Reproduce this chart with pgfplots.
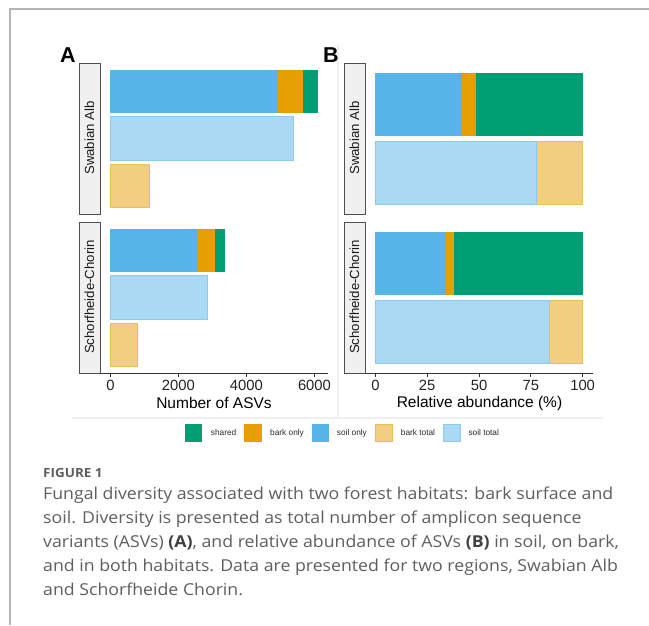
\documentclass[border=0pt]{standalone}
\usepackage{pgfplots}
\pgfplotsset{compat=1.18}
\usepackage{fontspec}
\setmainfont{Liberation Sans}
\newfontfamily\capfont{Open Sans}

\definecolor{shared}{HTML}{009E73}
\definecolor{barkonly}{HTML}{E69F00}
\definecolor{soilonly}{HTML}{56B4E9}
\definecolor{barktotal}{HTML}{F2CF80}
\definecolor{soiltotal}{HTML}{AAD9F4}
\definecolor{barktotalb}{HTML}{EDBE55}
\definecolor{soiltotalb}{HTML}{8CCBF0}
\definecolor{stripfill}{HTML}{F0F0F0}
\definecolor{stripdraw}{HTML}{505050}
\definecolor{axcol}{HTML}{333333}
\definecolor{tickcol}{HTML}{222222}
\definecolor{framecol}{HTML}{B4B4B4}
\definecolor{faint}{HTML}{F0F0F0}
\definecolor{captext}{HTML}{5E5E5E}

\pgfplotsset{
  base/.style={scale only axis, width=228pt, height=151pt, axis y line=none,
    ytick=\empty, clip=false, bar width=0.92,
    /pgf/number format/assume math mode=true},
  showx/.style={axis x line=bottom,
    x axis line style={-, draw=axcol, line width=0.8pt},
    xtick align=outside, major tick length=3.5pt,
    xtick style={draw=axcol, line width=0.8pt},
    xticklabel style={font=\fontsize{14.8}{16}\selectfont, text=tickcol},
    /pgf/number format/1000 sep={}},
  Aax/.style={xmin=-305, xmax=6398, ymin=0.4, ymax=3.6},
  Bax/.style={xmin=-5, xmax=105, ymin=0.4, ymax=2.6},
}

\newcommand{\capline}[1]{\scalebox{1.08}[1]{#1}}

\begin{document}
\begin{tikzpicture}
\path[use as bounding box] (0pt,0pt) rectangle (649pt,-625pt);
% page frame
\draw[framecol, line width=1.1pt] (10pt,-625pt) -- (10pt,-9pt) -- (649pt,-9pt);
% faint panel separators
\draw[faint, line width=1.5pt] (72pt,-418pt) -- (603pt,-418pt);
\draw[faint, line width=1.2pt] (338pt,-45pt) -- (338pt,-418pt);

% ===== Panel A, Swabian Alb =====
\begin{axis}[base, Aax, hide axis, xbar stacked, at={(100pt,-214pt)}, anchor=south west]
\addplot[fill=soilonly, draw=none] coordinates {(4935,3)};
\addplot[fill=barkonly, draw=none] coordinates {(720,3)};
\addplot[fill=shared, draw=none] coordinates {(438,3)};
\end{axis}
\begin{axis}[base, Aax, hide axis, xbar, at={(100pt,-214pt)}, anchor=south west]
\addplot[xbar, bar shift=0pt, fill=soiltotal, draw=soiltotalb, line width=0.8pt] coordinates {(5373,2)};
\addplot[xbar, bar shift=0pt, fill=barktotal, draw=barktotalb, line width=0.8pt] coordinates {(1158,1)};
\end{axis}

% ===== Panel A, Schorfheide-Chorin =====
\begin{axis}[base, Aax, hide axis, xbar stacked, at={(100pt,-373pt)}, anchor=south west]
\addplot[fill=soilonly, draw=none] coordinates {(2575,3)};
\addplot[fill=barkonly, draw=none] coordinates {(505,3)};
\addplot[fill=shared, draw=none] coordinates {(292,3)};
\end{axis}
\begin{axis}[base, Aax, showx, xtick={0,2000,4000,6000}, xbar, at={(100pt,-373pt)}, anchor=south west]
\addplot[xbar, bar shift=0pt, fill=soiltotal, draw=soiltotalb, line width=0.8pt] coordinates {(2867,2)};
\addplot[xbar, bar shift=0pt, fill=barktotal, draw=barktotalb, line width=0.8pt] coordinates {(797,1)};
\end{axis}

% ===== Panel B, Swabian Alb =====
\begin{axis}[base, Bax, hide axis, xbar stacked, at={(365pt,-214pt)}, anchor=south west]
\addplot[fill=soilonly, draw=none] coordinates {(42.0,2)};
\addplot[fill=barkonly, draw=none] coordinates {(6.7,2)};
\addplot[fill=shared, draw=none] coordinates {(51.3,2)};
\end{axis}
\begin{axis}[base, Bax, hide axis, xbar stacked, at={(365pt,-214pt)}, anchor=south west]
\addplot[fill=soiltotal, draw=soiltotalb, line width=0.8pt] coordinates {(77.7,1)};
\addplot[fill=barktotal, draw=barktotalb, line width=0.8pt] coordinates {(22.3,1)};
\end{axis}

% ===== Panel B, Schorfheide-Chorin =====
\begin{axis}[base, Bax, hide axis, xbar stacked, at={(365pt,-373pt)}, anchor=south west]
\addplot[fill=soilonly, draw=none] coordinates {(34.0,2)};
\addplot[fill=barkonly, draw=none] coordinates {(4.0,2)};
\addplot[fill=shared, draw=none] coordinates {(62.0,2)};
\end{axis}
\begin{axis}[base, Bax, showx, xtick={0,25,50,75,100}, xbar stacked, at={(365pt,-373pt)}, anchor=south west]
\addplot[fill=soiltotal, draw=soiltotalb, line width=0.8pt] coordinates {(84.0,1)};
\addplot[fill=barktotal, draw=barktotalb, line width=0.8pt] coordinates {(16.0,1)};
\end{axis}

% strips
\foreach \xa/\xb in {79/100, 344/365}{
  \draw[fill=stripfill, draw=stripdraw, line width=0.9pt] (\xa pt,-63pt) rectangle (\xb pt,-214pt);
  \draw[fill=stripfill, draw=stripdraw, line width=0.9pt] (\xa pt,-222pt) rectangle (\xb pt,-373pt);
}
\foreach \xc in {89.5, 354.5}{
  \node[rotate=90, text={rgb,255:red,26;green,26;blue,26}, font=\fontsize{13.2}{15}\selectfont, inner sep=0pt] at (\xc pt,-138pt) {Swabian Alb};
  \node[rotate=90, text={rgb,255:red,26;green,26;blue,26}, font=\fontsize{13.2}{15}\selectfont, inner sep=0pt] at (\xc pt,-297pt) {Schorfheide-Chorin};
}

% axis titles
\node[font=\fontsize{15.5}{17}\selectfont, inner sep=0pt] at (214pt,-403pt) {Number of ASVs};
\node[font=\fontsize{15.5}{17}\selectfont, inner sep=0pt] at (479.5pt,-403pt) {Relative abundance (\%)};

% panel letters
\node[font=\fontsize{21.5}{23}\selectfont\bfseries, inner sep=0pt, anchor=base] at (68pt,-62pt) {A};
\node[font=\fontsize{21.5}{23}\selectfont\bfseries, inner sep=0pt, anchor=base] at (331pt,-62pt) {B};

% legend
\fill[shared] (185pt,-424.3pt) rectangle (202.3pt,-441.7pt);
\fill[barkonly] (244pt,-424.3pt) rectangle (261.7pt,-441.7pt);
\fill[soilonly] (311.7pt,-424.3pt) rectangle (329pt,-441.7pt);
\draw[fill=barktotal, draw=barktotalb, line width=0.8pt] (375.7pt,-424.7pt) rectangle (392.3pt,-441.3pt);
\draw[fill=soiltotal, draw=soiltotalb, line width=0.8pt] (443.7pt,-424.7pt) rectangle (460.3pt,-441.3pt);
\begin{scope}[every node/.style={font=\fontsize{8.3}{10}\selectfont, text={rgb,255:red,40;green,40;blue,40}, anchor=west, inner sep=0pt}]
\node at (210.7pt,-433pt) {shared};
\node at (270pt,-433pt) {bark only};
\node at (336.7pt,-433pt) {soil only};
\node at (400.7pt,-433pt) {bark total};
\node at (468.3pt,-433pt) {soil total};
\end{scope}

% caption
\node[anchor=base west, inner sep=0pt, text=captext, font=\capfont\fontsize{12.6}{14}\selectfont\bfseries] at (43pt,-477.7pt) {\scalebox{1.07}[1]{FIGURE 1}};
\begin{scope}[every node/.style={anchor=base west, inner sep=0pt, text=captext, font=\capfont\fontsize{16.4}{18}\selectfont}]
\node at (43pt,-499.5pt) {\capline{Fungal diversity associated with two forest habitats: bark surface and}};
\node at (43pt,-523.5pt) {\capline{soil. Diversity is presented as total number of amplicon sequence}};
\node at (43pt,-547.5pt) {\capline{variants (ASVs) {\color{black!75}\bfseries (A)}, and relative abundance of ASVs {\color{black!75}\bfseries (B)} in soil, on bark,}};
\node at (43pt,-571.5pt) {\capline{and in both habitats. Data are presented for two regions, Swabian Alb}};
\node at (43pt,-595.5pt) {\capline{and Schorfheide Chorin.}};
\end{scope}
\end{tikzpicture}
\end{document}
